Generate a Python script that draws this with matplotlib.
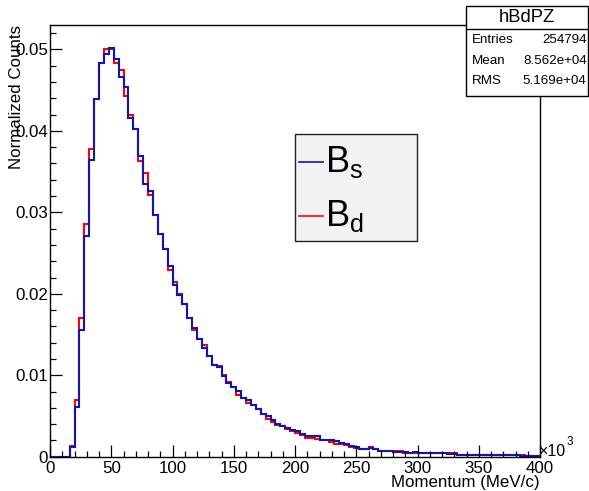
import numpy as np
import matplotlib
matplotlib.use("Agg")
import matplotlib.pyplot as plt
from matplotlib.patches import Rectangle
from matplotlib.lines import Line2D
from matplotlib.ticker import MultipleLocator, FuncFormatter

plt.rcParams['font.family'] = ['Liberation Sans', 'DejaVu Sans']
plt.rcParams['mathtext.fontset'] = 'custom'
plt.rcParams['mathtext.rm'] = 'Liberation Sans'
plt.rcParams['mathtext.it'] = 'Liberation Sans'

# ---- data (bin width 4 x10^3 MeV/c, 0..400) ----
bin_edges = np.arange(0, 404, 4)
bs_values = [
    0, 0, 0, 0, 0.0012, 0.0061, 0.0155, 0.0271, 0.0364, 0.0439,
    0.0483, 0.0495, 0.0502, 0.0488, 0.0466, 0.0454, 0.0416, 0.0402, 0.0369, 0.0335,
    0.0326, 0.0297, 0.0273, 0.0255, 0.0234, 0.0211, 0.0199, 0.0187, 0.0170, 0.0158,
    0.0144, 0.0134, 0.0124, 0.0113, 0.0110, 0.0099, 0.0090, 0.0086, 0.0081, 0.0072,
    0.0069, 0.0064, 0.0058, 0.0052, 0.0050, 0.0045, 0.0040, 0.0038, 0.0035, 0.0033,
    0.0031, 0.0028, 0.0025, 0.0025, 0.0025, 0.0020, 0.0021, 0.0020, 0.0019, 0.0017,
    0.0016, 0.0013, 0.0012, 0.0010, 0.0009, 0.0011, 0.0009, 0.0007, 0.0007, 0.0007,
    0.0006, 0.0006, 0.0006, 0.0005, 0.0006, 0.0005, 0.0004, 0.0004, 0.0004, 0.0004,
    0.0004, 0.0003, 0.0003, 0.0002, 0.0002, 0.0002, 0.0002, 0.0002, 0.0002, 0.0002,
    0.0002, 0.0002, 0.0002, 0.0002, 0.0002, 0.0002, 0.0001, 0.0001, 0.0001, 0.0001,
]
bd_values = [
    0, 0, 0, 0, 0.0013, 0.0070, 0.0170, 0.0286, 0.0378, 0.0439,
    0.0483, 0.0501, 0.0501, 0.0483, 0.0475, 0.0443, 0.0419, 0.0402, 0.0363, 0.0348,
    0.0321, 0.0297, 0.0273, 0.0255, 0.0229, 0.0215, 0.0200, 0.0187, 0.0170, 0.0156,
    0.0145, 0.0137, 0.0124, 0.0113, 0.0111, 0.0100, 0.0092, 0.0085, 0.0076, 0.0072,
    0.0066, 0.0063, 0.0058, 0.0052, 0.0046, 0.0043, 0.0039, 0.0038, 0.0034, 0.0032,
    0.0029, 0.0027, 0.0023, 0.0023, 0.0022, 0.0020, 0.0020, 0.0018, 0.0016, 0.0016,
    0.0014, 0.0012, 0.0011, 0.0010, 0.0009, 0.0012, 0.0009, 0.0007, 0.0007, 0.0007,
    0.0007, 0.0007, 0.0005, 0.0005, 0.0004, 0.0004, 0.0005, 0.0004, 0.0004, 0.0004,
    0.0004, 0.0004, 0.0004, 0.0002, 0.0002, 0.0002, 0.0002, 0.0002, 0.0002, 0.0002,
    0.0002, 0.0002, 0.0002, 0.0002, 0.0002, 0.0002, 0.0002, 0.0001, 0.0001, 0.0001,
]
stats_title = "hBdPZ"
stats_rows = [("Entries", "254794"), ("Mean", "8.562e+04"), ("RMS", "5.169e+04")]
legend_labels = [r"$\mathrm{B}_{\mathrm{s}}$", r"$\mathrm{B}_{\mathrm{d}}$"]

BLUE = '#1414b4'
RED = '#ff0000'

W, H = 589, 491
fig = plt.figure(figsize=(W / 100, H / 100), dpi=100)

def fx(x):
    return x / W

def fy(y):
    return 1 - y / H

ax = fig.add_axes([fx(50), fy(456.7), (540 - 50) / W, (456.7 - 25) / H])
ax.stairs(bd_values, bin_edges, color=RED, linewidth=1.5, baseline=None)
ax.stairs(bs_values, bin_edges, color=BLUE, linewidth=1.5, baseline=None)
ax.set_xlim(0, 400)
ax.set_ylim(0, 0.0530)

ax.xaxis.set_major_locator(MultipleLocator(50))
ax.xaxis.set_minor_locator(MultipleLocator(10))
ax.yaxis.set_major_locator(MultipleLocator(0.01))
ax.yaxis.set_minor_locator(MultipleLocator(0.002))
ax.yaxis.set_major_formatter(FuncFormatter(lambda v, p: '%g' % round(v, 4)))
ax.xaxis.set_major_formatter(FuncFormatter(lambda v, p: '%g' % v))
ax.tick_params(which='both', direction='in', top=False, right=False,
               labelsize=12.2, colors='black', width=0.9)
ax.tick_params(which='major', length=8.6)
ax.tick_params(which='minor', length=4.3)
ax.tick_params(axis='y', pad=1.5)
ax.tick_params(axis='x', pad=3)
for s in ax.spines.values():
    s.set_linewidth(1.0)

# axis titles
fig.text(fx(17), fy(25), "Normalized Counts", rotation=90, ha='center', va='top',
         fontsize=12.2)
fig.text(fx(540), fy(483), "Momentum (MeV/c)", ha='right', va='center', fontsize=12.2)
fig.text(fx(539), fy(451), "×10", ha='left', va='center', fontsize=11.5)
fig.text(fx(566.5), fy(442), "3", ha='left', va='center', fontsize=8.5)

# stats box
x0, x1, y0, y1, ysep = 466, 588, 6, 96, 29
fig.patches.append(Rectangle((fx(x0), fy(y1)), (x1 - x0) / W, (y1 - y0) / H,
                             transform=fig.transFigure, facecolor='white',
                             edgecolor='black', linewidth=1.0, zorder=5))
fig.lines.append(Line2D([fx(x0), fx(x1)], [fy(ysep), fy(ysep)],
                        transform=fig.transFigure, color='black', linewidth=1.0, zorder=6))
fig.text(fx((x0 + x1) / 2), fy(18), stats_title, ha='center', va='center',
         fontsize=13.2, zorder=7)
for i, (k, v) in enumerate(stats_rows):
    yy = 40 + i * 20.5
    fig.text(fx(472), fy(yy), k, ha='left', va='center', fontsize=9.6, zorder=7)
    fig.text(fx(586.5), fy(yy), v, ha='right', va='center', fontsize=9.6, zorder=7)

# legend box
lx0, lx1, ly0, ly1 = 295, 417, 134, 241
fig.patches.append(Rectangle((fx(lx0), fy(ly1)), (lx1 - lx0) / W, (ly1 - ly0) / H,
                             transform=fig.transFigure, facecolor='#f2f2f2',
                             edgecolor='#222222', linewidth=1.0, zorder=5))
for i, (lab, col) in enumerate(zip(legend_labels, [BLUE, RED])):
    yy = 161.7 + i * 54
    fig.lines.append(Line2D([fx(299), fx(323)], [fy(yy), fy(yy)],
                            transform=fig.transFigure, color=col, linewidth=1.2, zorder=6))
    fig.text(fx(325), fy(yy), lab, ha='left', va='center', fontsize=26, zorder=7)

fig.savefig("out.png", dpi=100)
